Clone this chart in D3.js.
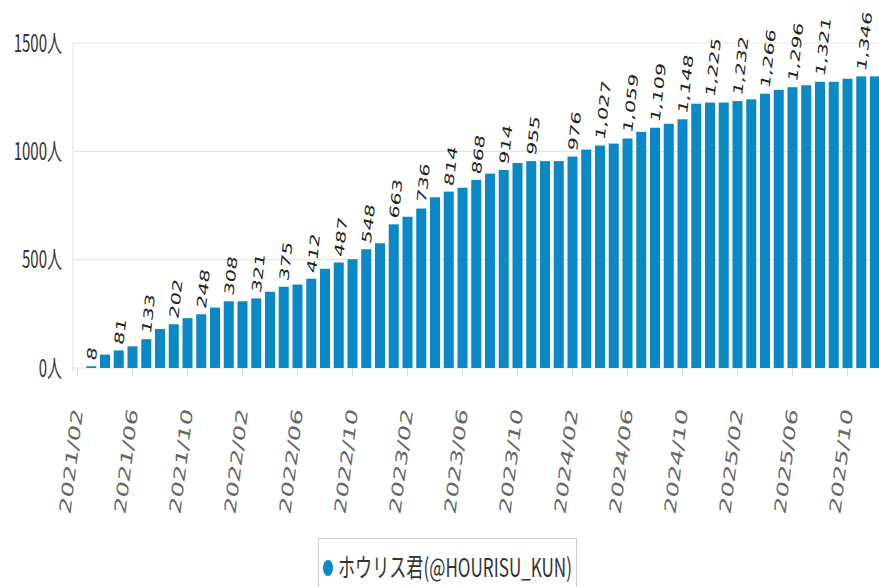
<!DOCTYPE html>
<html>
<head>
<meta charset="utf-8">
<script src="https://cdn.jsdelivr.net/npm/d3@7"></script>
<style>
  html, body { margin: 0; padding: 0; background: #fff; }
  svg { display: block; }
</style>
</head>
<body>
<svg id="chart" width="879" height="587"></svg>
<script>
// ---- data ----
const categories = [
  "2021/03","2021/04","2021/05","2021/06","2021/07","2021/08","2021/09","2021/10","2021/11","2021/12",
  "2022/01","2022/02","2022/03","2022/04","2022/05","2022/06","2022/07","2022/08","2022/09","2022/10","2022/11","2022/12",
  "2023/01","2023/02","2023/03","2023/04","2023/05","2023/06","2023/07","2023/08","2023/09","2023/10","2023/11","2023/12",
  "2024/01","2024/02","2024/03","2024/04","2024/05","2024/06","2024/07","2024/08","2024/09","2024/10","2024/11","2024/12",
  "2025/01","2025/02","2025/03","2025/04","2025/05","2025/06","2025/07","2025/08","2025/09","2025/10","2025/11","2025/12"
];
const followers = [
  8, 62, 81, 100, 133, 180, 202, 230, 248, 279,
  308, 308, 321, 352, 375, 385, 412, 458, 487, 502, 548, 576,
  663, 698, 736, 788, 814, 832, 868, 897, 914, 946, 955, 955,
  955, 976, 1008, 1027, 1036, 1059, 1090, 1109, 1127, 1148, 1220, 1225,
  1225, 1232, 1240, 1266, 1284, 1296, 1305, 1321, 1321, 1335, 1346, 1346
];
// months whose value is printed above the bar
const labeledMonths = [
  "2021/03","2021/05","2021/07","2021/09","2021/11","2022/01","2022/03","2022/05","2022/07","2022/09",
  "2022/11","2023/01","2023/03","2023/05","2023/07","2023/09","2023/11","2024/02","2024/04","2024/06",
  "2024/08","2024/10","2024/12","2025/02","2025/04","2025/06","2025/08","2025/11"
];
const xTickLabels = [
  "2021/02","2021/06","2021/10","2022/02","2022/06","2022/10","2023/02","2023/06",
  "2023/10","2024/02","2024/06","2024/10","2025/02","2025/06","2025/10"
];
const yTickValues = [0, 500, 1000, 1500];
const seriesName = "ホウリス君(@HOURISU_KUN)";

// ---- helpers ----
const monthIndex = s => { const [y, m] = s.split("/").map(Number); return (y - 2021) * 12 + (m - 2); };
const SY = 1.6; // vertical stretch of the reference rendering

const svg = d3.select("#chart");
const x = d3.scaleLinear().domain([0, 58]).range([77.5, 875]);
const y = d3.scaleLinear().domain([0, 1500]).range([368, 43]);
const barW = 10;

// grid lines
svg.append("g").selectAll("line").data(yTickValues).join("line")
  .attr("x1", 73).attr("x2", 879)
  .attr("y1", d => y(d)).attr("y2", d => y(d))
  .attr("stroke", "#e4e4e4").attr("stroke-width", 1.2);

// left axis line
svg.append("line").attr("x1", 73).attr("x2", 73).attr("y1", y(1500)).attr("y2", y(0) + 4)
  .attr("stroke", "#e4e4e4").attr("stroke-width", 1.2);

// y labels
svg.append("g").selectAll("text").data(yTickValues).join("text")
  .attr("transform", d => `translate(62,${y(d)}) scale(1,${SY})`)
  .attr("text-anchor", "end").attr("dy", "0.36em")
  .attr("font-family", "'Noto Sans CJK JP', 'DejaVu Sans', sans-serif")
  .attr("font-size", 15).attr("fill", "#333")
  .text(d => d + "人");

// x ticks
svg.append("g").selectAll("line").data(xTickLabels).join("line")
  .attr("x1", d => x(monthIndex(d))).attr("x2", d => x(monthIndex(d)))
  .attr("y1", y(0)).attr("y2", y(0) + 8)
  .attr("stroke", "#d8d8d8").attr("stroke-width", 1);

// x labels
svg.append("g").selectAll("text").data(xTickLabels).join("text")
  .attr("transform", d => `translate(${x(monthIndex(d))},409) scale(1,${SY}) rotate(-79)`)
  .attr("text-anchor", "end").attr("dy", "0.35em")
  .attr("font-family", "'DejaVu Sans', sans-serif")
  .attr("font-size", 16).attr("fill", "#666")
  .text(d => d);

// bars
const data = categories.map((c, i) => ({ c, v: followers[i], m: monthIndex(c) }));
svg.append("g").selectAll("rect").data(data).join("rect")
  .attr("x", d => x(d.m) - barW / 2).attr("width", barW)
  .attr("y", d => y(d.v)).attr("height", d => y(0) - y(d.v))
  .attr("fill", "#0b88c6");

// value labels
const fmt = d3.format(",");
svg.append("g").selectAll("text").data(data.filter(d => labeledMonths.includes(d.c))).join("text")
  .attr("transform", d => `translate(${x(d.m)},${y(d.v) - 6}) scale(1,${SY}) rotate(-80)`)
  .attr("text-anchor", "start").attr("dy", "0.35em")
  .attr("font-family", "'DejaVu Sans', sans-serif")
  .attr("font-size", 13).attr("fill", "#222")
  .text(d => fmt(d.v));

// legend
const lg = svg.append("g");
lg.append("rect").attr("x", 318.5).attr("y", 538.5).attr("width", 258).attr("height", 60)
  .attr("fill", "#fff").attr("stroke", "#cfcfcf");
lg.append("ellipse").attr("cx", 328).attr("cy", 568).attr("rx", 5).attr("ry", 8).attr("fill", "#0b88c6");
lg.append("text")
  .attr("transform", `translate(338,568) scale(1,${SY})`)
  .attr("dy", "0.36em")
  .attr("font-family", "'Noto Sans CJK JP', sans-serif")
  .attr("font-size", 16).attr("fill", "#333")
  .attr("textLength", 234).attr("lengthAdjust", "spacingAndGlyphs")
  .text(seriesName);
</script>
</body>
</html>
